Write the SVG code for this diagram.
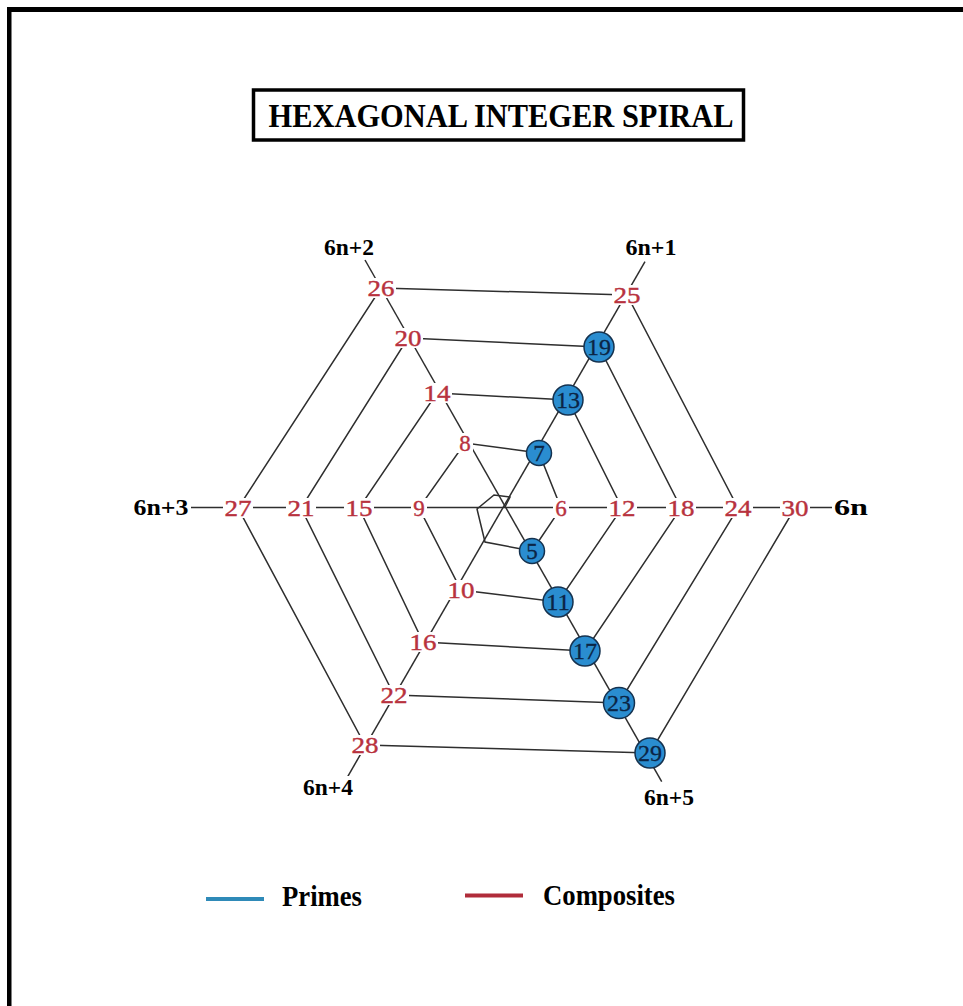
<svg xmlns="http://www.w3.org/2000/svg" width="963" height="1006" viewBox="0 0 963 1006">
<style>
.frame{fill:#000}
.ln{stroke:#2e2e2e;stroke-width:1.5;fill:none}
.bg{fill:#fff}
.num{font-family:"Liberation Serif","Times New Roman",serif;font-size:23px;fill:#b8323e;stroke:#b8323e;stroke-width:0.4;text-anchor:middle}
.ax{font-family:"Liberation Serif","Times New Roman",serif;font-size:24px;font-weight:bold;fill:#000;text-anchor:middle}
.pc{fill:#2a8dd0;stroke:#15324f;stroke-width:1.5}
.pn{font-family:"Liberation Serif","Times New Roman",serif;font-size:23px;fill:#0b2545;stroke:#0b2545;stroke-width:0.3;text-anchor:middle}
.title{font-family:"Liberation Serif","Times New Roman",serif;font-size:33px;font-weight:bold;fill:#000;text-anchor:middle}
.leg{font-family:"Liberation Serif","Times New Roman",serif;font-size:29px;font-weight:bold;fill:#000}
</style>
<rect width="963" height="1006" fill="#fff"/>
<rect class="frame" x="7" y="7" width="956" height="5"/>
<rect class="frame" x="7" y="7" width="4.5" height="999"/>

<g id="title">
<rect x="253.5" y="90" width="490" height="50" fill="#fff" stroke="#000" stroke-width="3.5"/>
<text class="title" x="501" y="127" textLength="465" lengthAdjust="spacingAndGlyphs">HEXAGONAL INTEGER SPIRAL</text>
</g>

<g id="connectors">
<line class="ln" x1="188" y1="507.5" x2="835" y2="507.5"/>
<line class="ln" x1="346.7" y1="778.3" x2="645" y2="261.7"/>
<line class="ln" x1="365" y1="260" x2="661.7" y2="781.7"/>
<polyline class="ln" points="505,507 510,497 494,495 477,509 485,542 532,551"/>
<polyline class="ln" points="532,551 561,508 539,453 465,443 419,508 461,590 558,602 622,508 568,400 437,393 359,508 423,642 585,651 681,508 599,347 408,338 301,508 394,695 619,703 738,508 627,295 381,288 238,508 365,745 650,753 795,508"/>
</g>

<g id="axis-labels">
<rect class="bg" x="322" y="236" width="54" height="22"/>
<text id="ax-6n2" class="ax" x="349" y="255" textLength="50" lengthAdjust="spacingAndGlyphs">6n+2</text>
<rect class="bg" x="624" y="236" width="54" height="22"/>
<text id="ax-6n1" class="ax" x="651" y="255" textLength="51" lengthAdjust="spacingAndGlyphs">6n+1</text>
<rect class="bg" x="131" y="496" width="60" height="22"/>
<text id="ax-6n3" class="ax" x="161" y="515" textLength="55" lengthAdjust="spacingAndGlyphs">6n+3</text>
<rect class="bg" x="832" y="496" width="38" height="22"/>
<text id="ax-6n" class="ax" x="851" y="515" textLength="34" lengthAdjust="spacingAndGlyphs">6n</text>
<rect class="bg" x="301" y="776" width="54" height="22"/>
<text id="ax-6n4" class="ax" x="328" y="795" textLength="50" lengthAdjust="spacingAndGlyphs">6n+4</text>
<rect class="bg" x="642" y="786" width="54" height="22"/>
<text id="ax-6n5" class="ax" x="669" y="805" textLength="50" lengthAdjust="spacingAndGlyphs">6n+5</text>
</g>

<g id="composites">
<g id="n6"><rect class="bg" x="553" y="498" width="16" height="20"/><text class="num" x="561" y="516">6</text></g>
<g id="n8"><rect class="bg" x="457" y="433" width="16" height="20"/><text class="num" x="465" y="451">8</text></g>
<g id="n9"><rect class="bg" x="411" y="498" width="16" height="20"/><text class="num" x="419" y="516">9</text></g>
<g id="n10"><rect class="bg" x="446" y="580" width="30" height="20"/><text class="num" x="461" y="598" textLength="27" lengthAdjust="spacingAndGlyphs">10</text></g>
<g id="n12"><rect class="bg" x="607" y="498" width="30" height="20"/><text class="num" x="622" y="516" textLength="27" lengthAdjust="spacingAndGlyphs">12</text></g>
<g id="n14"><rect class="bg" x="422" y="383" width="30" height="20"/><text class="num" x="437" y="401" textLength="27" lengthAdjust="spacingAndGlyphs">14</text></g>
<g id="n15"><rect class="bg" x="344" y="498" width="30" height="20"/><text class="num" x="359" y="516" textLength="27" lengthAdjust="spacingAndGlyphs">15</text></g>
<g id="n16"><rect class="bg" x="408" y="632" width="30" height="20"/><text class="num" x="423" y="650" textLength="27" lengthAdjust="spacingAndGlyphs">16</text></g>
<g id="n18"><rect class="bg" x="666" y="498" width="30" height="20"/><text class="num" x="681" y="516" textLength="27" lengthAdjust="spacingAndGlyphs">18</text></g>
<g id="n20"><rect class="bg" x="393" y="328" width="30" height="20"/><text class="num" x="408" y="346" textLength="27" lengthAdjust="spacingAndGlyphs">20</text></g>
<g id="n21"><rect class="bg" x="286" y="498" width="30" height="20"/><text class="num" x="301" y="516" textLength="27" lengthAdjust="spacingAndGlyphs">21</text></g>
<g id="n22"><rect class="bg" x="379" y="685" width="30" height="20"/><text class="num" x="394" y="703" textLength="27" lengthAdjust="spacingAndGlyphs">22</text></g>
<g id="n24"><rect class="bg" x="723" y="498" width="30" height="20"/><text class="num" x="738" y="516" textLength="27" lengthAdjust="spacingAndGlyphs">24</text></g>
<g id="n25"><rect class="bg" x="612" y="285" width="30" height="20"/><text class="num" x="627" y="303" textLength="27" lengthAdjust="spacingAndGlyphs">25</text></g>
<g id="n26"><rect class="bg" x="366" y="278" width="30" height="20"/><text class="num" x="381" y="296" textLength="27" lengthAdjust="spacingAndGlyphs">26</text></g>
<g id="n27"><rect class="bg" x="223" y="498" width="30" height="20"/><text class="num" x="238" y="516" textLength="27" lengthAdjust="spacingAndGlyphs">27</text></g>
<g id="n28"><rect class="bg" x="350" y="735" width="30" height="20"/><text class="num" x="365" y="753" textLength="27" lengthAdjust="spacingAndGlyphs">28</text></g>
<g id="n30"><rect class="bg" x="780" y="498" width="30" height="20"/><text class="num" x="795" y="516" textLength="27" lengthAdjust="spacingAndGlyphs">30</text></g>
</g>

<g id="primes">
<g id="p5"><circle class="pc" cx="532" cy="551" r="12.5"/><text class="pn" x="532" y="559">5</text></g>
<g id="p7"><circle class="pc" cx="539" cy="453" r="12.5"/><text class="pn" x="539" y="461">7</text></g>
<g id="p11"><circle class="pc" cx="558" cy="602" r="15"/><text class="pn" x="558" y="610" textLength="24" lengthAdjust="spacingAndGlyphs">11</text></g>
<g id="p13"><circle class="pc" cx="568" cy="400" r="15"/><text class="pn" x="568" y="408" textLength="24" lengthAdjust="spacingAndGlyphs">13</text></g>
<g id="p17"><circle class="pc" cx="585" cy="651" r="15"/><text class="pn" x="585" y="659" textLength="24" lengthAdjust="spacingAndGlyphs">17</text></g>
<g id="p19"><circle class="pc" cx="599" cy="347" r="15"/><text class="pn" x="599" y="355" textLength="24" lengthAdjust="spacingAndGlyphs">19</text></g>
<g id="p23"><circle class="pc" cx="619" cy="703" r="15.5"/><text class="pn" x="619" y="711" textLength="24" lengthAdjust="spacingAndGlyphs">23</text></g>
<g id="p29"><circle class="pc" cx="650" cy="753" r="15"/><text class="pn" x="650" y="761" textLength="24" lengthAdjust="spacingAndGlyphs">29</text></g>
</g>

<g id="legend">
<line x1="206" y1="899" x2="264" y2="899" stroke="#2f8ab8" stroke-width="4"/>
<text class="leg" x="282" y="906" textLength="80" lengthAdjust="spacingAndGlyphs">Primes</text>
<line x1="465" y1="895.5" x2="523" y2="895.5" stroke="#b02c3a" stroke-width="4"/>
<text class="leg" x="543" y="905" textLength="132" lengthAdjust="spacingAndGlyphs">Composites</text>
</g>
</svg>
